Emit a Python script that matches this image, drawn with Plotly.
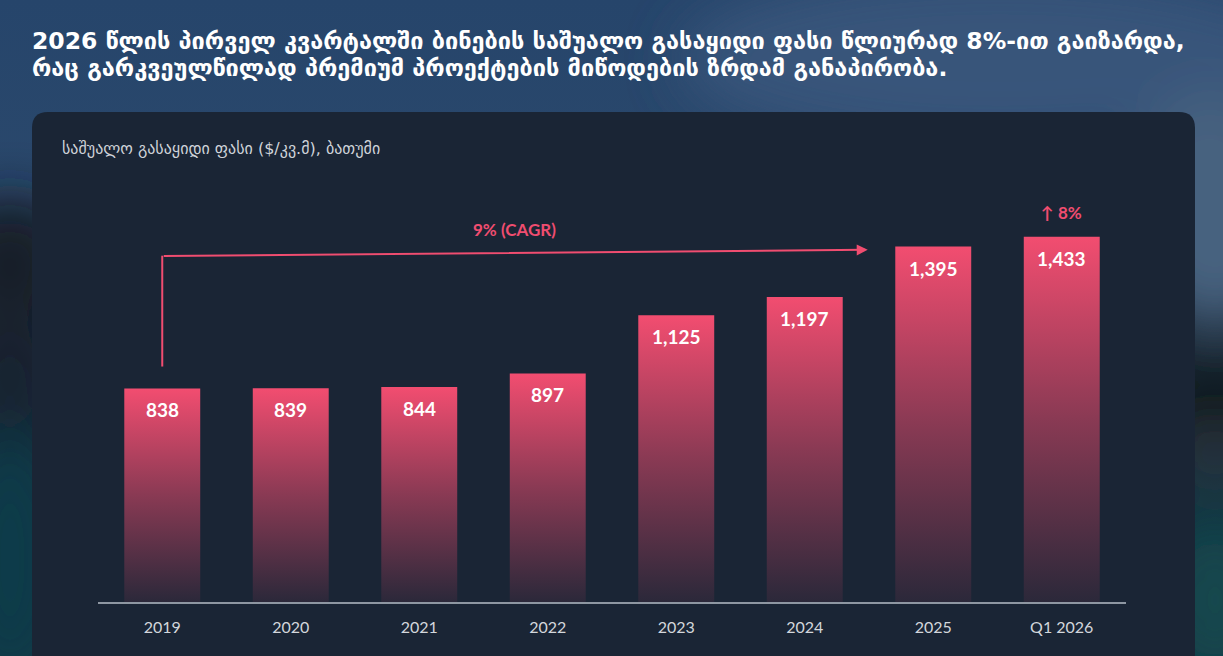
import base64
import plotly.graph_objects as go

# ---------------- data ----------------
categories = ["2019", "2020", "2021", "2022", "2023", "2024", "2025", "Q1 2026"]
prices = [838, 839, 844, 897, 1125, 1197, 1395, 1433]
value_labels = ["838", "839", "844", "897", "1,125", "1,197", "1,395", "1,433"]
cagr_label = "9% (CAGR)"
yoy_label = "↑ 8%"
title_lines = ["2026 წლის პირველ კვარტალში ბინების საშუალო გასაყიდი ფასი წლიურად 8%-ით გაიზარდა,",
               "რაც გარკვეულწილად პრემიუმ პროექტების მიწოდების ზრდამ განაპირობა."]
subtitle_text = "საშუალო გასაყიდი ფასი ($/კვ.მ), ბათუმი"

# ---------------- layout geometry ----------------
W, H = 1223, 656
ML, MR, MT, MB = 98, 97, 180, 54
PW, PH = W - ML - MR, H - MT - MB
YMAX = 1656
PINK = "#f04d70"
GEO = "DejaVu Sans"
NUM = "Lato, DejaVu Sans"


def px_x(p):
    return (p - ML) / PW


def px_y(p):
    return (H - MB - p) / PH


# background (blurred photo look) as an SVG image
svg = f"""<svg xmlns='http://www.w3.org/2000/svg' width='{W}' height='{H}' viewBox='0 0 {W} {H}'>
<defs>
<linearGradient id='g' x1='0' y1='0' x2='0' y2='1'>
<stop offset='0' stop-color='#26456b'/>
<stop offset='0.28' stop-color='#2a486c'/>
<stop offset='0.42' stop-color='#1a2634'/>
<stop offset='0.55' stop-color='#15222d'/>
<stop offset='0.72' stop-color='#0f2f3d'/>
<stop offset='1' stop-color='#0d3a46'/>
</linearGradient>
<filter id='b' x='-50%' y='-50%' width='200%' height='200%'><feGaussianBlur stdDeviation='28'/></filter>
</defs>
<rect width='{W}' height='{H}' fill='url(#g)'/>
<g filter='url(#b)'>
<ellipse cx='1000' cy='60' rx='320' ry='90' fill='#37557a'/>
<ellipse cx='1215' cy='210' rx='90' ry='120' fill='#46627f'/>
<ellipse cx='1215' cy='400' rx='70' ry='35' fill='#0e1419'/>
<ellipse cx='1215' cy='455' rx='60' ry='30' fill='#2b3641'/>
<ellipse cx='1215' cy='600' rx='60' ry='80' fill='#13464d'/>
<ellipse cx='10' cy='260' rx='60' ry='60' fill='#171d25'/>
<ellipse cx='10' cy='380' rx='50' ry='60' fill='#142433'/>
<ellipse cx='10' cy='560' rx='60' ry='130' fill='#0b3a4a'/>
</g>
</svg>"""
bg_src = "data:image/svg+xml;base64," + base64.b64encode(svg.encode("utf-8")).decode("ascii")

fig = go.Figure()

# bars with vertical gradient
half = 0.2955
for i, v in enumerate(prices):
    fig.add_trace(go.Scatter(
        x=[i - half, i + half, i + half, i - half, i - half],
        y=[0, 0, v, v, 0],
        mode="lines", fill="toself",
        line=dict(width=0, color="rgba(0,0,0,0)"),
        fillgradient=dict(type="vertical",
                          colorscale=[[0, "rgba(240,77,112,0.08)"],
                                      [0.5, "rgba(240,77,112,0.52)"],
                                      [1, "rgba(242,77,112,1)"]]),
        hoverinfo="skip", showlegend=False,
    ))

annotations = []
for i, (v, t) in enumerate(zip(prices, value_labels)):
    annotations.append(dict(x=i, y=v, xref="x", yref="y", text=f"<b>{t}</b>",
                            showarrow=False, yanchor="top", yshift=-8,
                            font=dict(family=NUM, size=19, color="white")))

# CAGR arrow
annotations.append(dict(x=5.49, y=1382, ax=0, ay=1358, xref="x", yref="y", axref="x", ayref="y",
                        text="", showarrow=True, arrowhead=2, arrowsize=1.1, arrowwidth=2,
                        arrowcolor=PINK, standoff=0, startstandoff=0))
annotations.append(dict(x=2.745, y=1460, xref="x", yref="y", text=f"<b>{cagr_label}</b>",
                        showarrow=False, font=dict(family=NUM, size=17, color=PINK)))
annotations.append(dict(x=7, y=1527, xref="x", yref="y", text=f"<b>{yoy_label}</b>",
                        showarrow=False, font=dict(family=NUM, size=17, color=PINK)))
# title lines
for line, ypx in zip(title_lines, [41, 68]):
    annotations.append(dict(x=px_x(30), y=px_y(ypx), xref="paper", yref="paper", text=f"<b>{line}</b>",
                            showarrow=False, xanchor="left", yanchor="middle",
                            font=dict(family=GEO, size=23.5, color="white")))
# subtitle
annotations.append(dict(x=px_x(60), y=px_y(148), xref="paper", yref="paper", text=subtitle_text,
                        showarrow=False, xanchor="left", yanchor="middle",
                        font=dict(family=GEO, size=16, color="#cfd3d9")))

# panel with rounded top corners
L, R, T, B, r = 32, 1195, 112, 720, 16
rx, ry = r / PW, r / PH
x0, x1, y0, y1 = px_x(L), px_x(R), px_y(B), px_y(T)
panel_path = (f"M {x0},{y0} L {x0},{y1 - ry} Q {x0},{y1} {x0 + rx},{y1} "
              f"L {x1 - rx},{y1} Q {x1},{y1} {x1},{y1 - ry} L {x1},{y0} Z")

shapes = [
    dict(type="path", xref="paper", yref="paper", path=panel_path,
         fillcolor="#1a2535", line=dict(width=0), layer="below"),
    dict(type="line", xref="x", yref="y", x0=0, x1=0, y0=924, y1=1359,
         line=dict(color=PINK, width=2)),
]

fig.update_layout(
    width=W, height=H,
    margin=dict(l=ML, r=MR, t=MT, b=MB),
    paper_bgcolor="#1c3048", plot_bgcolor="rgba(0,0,0,0)",
    xaxis=dict(range=[-0.5, 7.5], tickvals=list(range(len(categories))), ticktext=categories,
               showgrid=False, zeroline=False, showline=True, linecolor="#8e97a2", linewidth=2,
               ticks="", ticklabelstandoff=10, fixedrange=True,
               tickfont=dict(family=NUM, size=16, color="#d3d7dc")),
    yaxis=dict(range=[0, YMAX], visible=False, showgrid=False, zeroline=False, fixedrange=True),
    images=[dict(source=bg_src, xref="paper", yref="paper", x=px_x(0), y=px_y(0),
                 sizex=W / PW, sizey=H / PH, xanchor="left", yanchor="top",
                 sizing="stretch", layer="below")],
    shapes=shapes,
    annotations=annotations,
    showlegend=False,
)

fig.write_html(
    "out.html",
    config={"displayModeBar": False},
    post_script="document.body.style.margin='0px';document.body.style.padding='0px';"
                "document.body.style.overflow='hidden';document.body.style.background='#1c3048';",
)
